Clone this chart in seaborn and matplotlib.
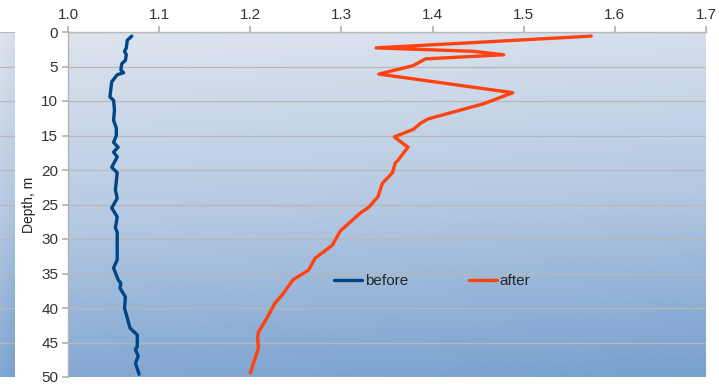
import numpy as np
import pandas as pd
import seaborn as sns
import matplotlib.pyplot as plt
from matplotlib.colors import LinearSegmentedColormap

# values
before_val = [1.070, 1.065, 1.064, 1.062, 1.064, 1.063, 1.059, 1.058, 1.061, 1.054,
              1.048, 1.046, 1.050, 1.051, 1.050, 1.053, 1.053, 1.050, 1.055, 1.050,
              1.054, 1.048, 1.054, 1.052, 1.054, 1.048, 1.054, 1.052, 1.054, 1.054,
              1.054, 1.050, 1.055, 1.058, 1.057, 1.063, 1.062, 1.068, 1.076, 1.076,
              1.074, 1.077, 1.074, 1.078]
before_depth = [0.6, 1.2, 2.3, 2.8, 3.3, 4.1, 4.6, 5.5, 5.9, 6.2,
                7.2, 9.4, 9.9, 11.3, 12.8, 13.9, 15.0, 16.0, 16.7, 17.4,
                18.1, 19.6, 20.4, 22.9, 24.1, 25.5, 26.8, 28.4, 29.0, 31.0,
                33.0, 34.2, 35.9, 36.4, 37.1, 38.4, 40.0, 42.9, 43.9, 45.6,
                46.0, 47.0, 48.0, 49.6]

after_val = [1.574, 1.338, 1.445, 1.478, 1.392, 1.384, 1.378, 1.341, 1.488, 1.456,
             1.395, 1.387, 1.379, 1.358, 1.373, 1.362, 1.359, 1.356, 1.345, 1.340,
             1.330, 1.321, 1.310, 1.299, 1.290, 1.271, 1.269, 1.264, 1.247, 1.235,
             1.227, 1.219, 1.209, 1.208, 1.209, 1.200]
after_depth = [0.6, 2.3, 2.8, 3.3, 3.9, 4.5, 4.9, 6.1, 8.8, 10.4,
               12.6, 13.2, 14.1, 15.2, 16.7, 18.6, 19.0, 20.4, 21.9, 23.9,
               25.4, 26.2, 27.5, 28.8, 30.9, 32.8, 33.3, 34.5, 35.9, 38.1,
               39.3, 41.3, 43.5, 44.3, 45.8, 49.4]

x_ticks = [1.0, 1.1, 1.2, 1.3, 1.4, 1.5, 1.6, 1.7]
y_ticks = [0, 5, 10, 15, 20, 25, 30, 35, 40, 45, 50]

sns.set_theme(style="white")
plt.rcParams['font.family'] = ['Liberation Sans', 'DejaVu Sans']

fig = plt.figure(figsize=(7.19, 3.86), dpi=100)
W, H = 719, 386
ax = fig.add_axes([68 / W, 1 - 377 / H, (706 - 68) / W, (377 - 32) / H])
strip = fig.add_axes([0, 1 - 377 / H, 15 / W, (377 - 32) / H])

# background gradient: light grey-blue at the top, blue at the bottom
cmap = LinearSegmentedColormap.from_list("bg", ["#dde4ee", "#b5c9e2", "#77a0cf"])
yy, xx = np.mgrid[0:1:200j, 0:1:200j]
grad = yy * 0.9 + xx * 0.1
for a in (ax, strip):
    a.imshow(grad, cmap=cmap, extent=(0, 1, 0, 1), origin='upper',
             transform=a.transAxes, aspect='auto', zorder=0,
             interpolation='bilinear')

df_before = pd.DataFrame({"value": before_val, "depth": before_depth})
df_after = pd.DataFrame({"value": after_val, "depth": after_depth})
sns.lineplot(data=df_before, x="value", y="depth", sort=False, estimator=None,
             color="#004586", linewidth=2.4, label="before", ax=ax, zorder=3,
             solid_joinstyle="round", solid_capstyle="round")
sns.lineplot(data=df_after, x="value", y="depth", sort=False, estimator=None,
             color="#ff420e", linewidth=2.4, label="after", ax=ax, zorder=3,
             solid_joinstyle="round", solid_capstyle="round")

ax.set_xlim(1.0, 1.7)
ax.set_ylim(50, 0)
ax.set_xticks(x_ticks)
ax.set_xticklabels([f"{t:.1f}" for t in x_ticks])
ax.set_yticks(y_ticks)
ax.xaxis.tick_top()
ax.tick_params(axis='x', top=True, bottom=False, length=4, color="#b3b3b3",
               labelsize=11, pad=3, labelcolor="#333333")
ax.tick_params(axis='y', left=True, length=4, color="#b3b3b3",
               labelsize=11, pad=3, labelcolor="#333333")
ax.set_xlabel("")
ax.set_ylabel("Depth, m", fontsize=10, labelpad=4, color="#222222")
ax.grid(axis='y', color="#b8b8b8", linewidth=0.9, zorder=1)
ax.grid(axis='x', visible=False)
ax.set_axisbelow(False)
for side in ("bottom", "right"):
    ax.spines[side].set_visible(False)
for side in ("top", "left"):
    ax.spines[side].set_color("#b3b3b3")
    ax.spines[side].set_linewidth(1.0)

strip.set_xlim(0, 1)
strip.set_ylim(50, 0)
for yv in y_ticks[:-1]:
    strip.axhline(yv, color="#b8b8b8", linewidth=0.9, zorder=1)
strip.set_xticks([])
strip.set_yticks([])
for s in strip.spines.values():
    s.set_visible(False)

ax.legend(loc="center", bbox_to_anchor=(0.571, 0.278), ncol=2, frameon=False,
          fontsize=11, handlelength=1.8, handletextpad=0.2, columnspacing=4.0)

fig.savefig("out.png", dpi=100)
